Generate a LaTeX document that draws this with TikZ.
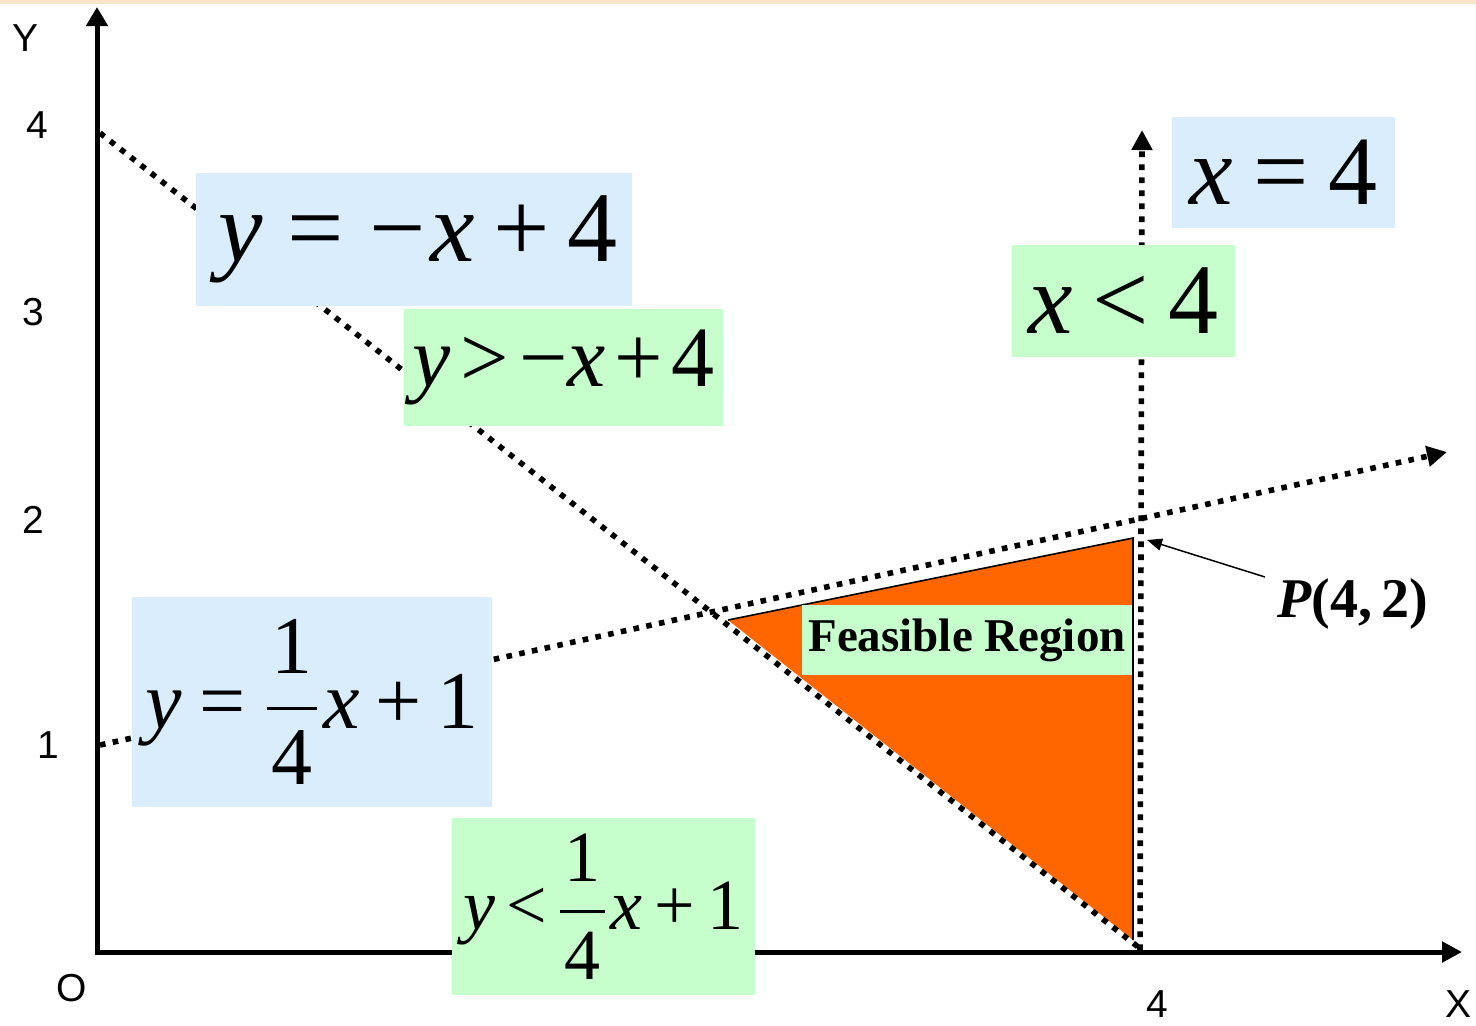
\RequirePackage{fix-cm}
\documentclass[tikz,border=0pt]{standalone}
\usepackage{amsmath}
\usepackage{fontspec}
\setmainfont{Liberation Serif}
\newfontfamily\axisfont{Liberation Sans}
\usetikzlibrary{arrows.meta,positioning}
\definecolor{eqblue}{RGB}{218,237,253}
\definecolor{eqgreen}{RGB}{198,255,204}
\definecolor{regionorange}{RGB}{255,102,0}
\definecolor{topband}{RGB}{252,228,200}
\newcommand{\vy}{\textit{y}}
\newcommand{\vx}{\textit{x}}
\newcommand{\gap}[1]{\hspace{#1em}}
\newcommand{\quarter}[1]{$\genfrac{}{}{#1}{0}{\mbox{\hspace{.06em}1\hspace{.06em}}}{\mbox{\hspace{.06em}4\hspace{.06em}}}$}

\begin{document}
\begin{tikzpicture}[x=0.5pt,y=-0.5pt,
  eqbox/.style={inner sep=0pt,outer sep=0pt},
  ticklabel/.style={font=\axisfont\fontsize{19.5}{23}\selectfont,inner sep=0pt},
  axis/.style={line width=2.5pt},
  dotline/.style={line width=2.8pt,dash pattern=on 2.8pt off 3.7pt},
  dottip/.style={-{Triangle[length=10pt,width=10pt]}}]
\useasboundingbox (0,0) rectangle (1476,1025);
\fill[topband] (0,0) rectangle (1476,4);

\coordinate (ytip) at (97,7);
\coordinate (origin) at (97,952);
\coordinate (xtip) at (1462,952);
\draw[axis,{Triangle[length=9.5pt,width=10.5pt]}-{Triangle[length=10pt,width=10pt]}] (ytip) -- (origin) -- (xtip);

\node[ticklabel] (ylab) at (26,38) {Y};
\node[ticklabel] (yfour) at (37,125) {4};
\node[ticklabel] (ythree) at (33,312) {3};
\node[ticklabel] (ytwo) at (33,520) {2};
\node[ticklabel] (yone) at (48,745) {1};
\node[ticklabel] (olab) at (72,988) {O};
\node[ticklabel] (xfour) at (1157,1004) {4};
\node[ticklabel] (xlab) at (1458,1004) {X};

\coordinate (fleft) at (728,620);
\coordinate (ftop) at (1133,538);
\coordinate (fbottom) at (1133,940);
\fill[regionorange] (fleft) -- (ftop) -- (fbottom) -- cycle;
\draw[line width=0.8pt] (fleft) -- (ftop) -- (fbottom);

\coordinate (linea) at (100,133);
\coordinate (lineb) at (1142,950);
\coordinate (quarta) at (100,745);
\coordinate (quartb) at (1447,452);
\coordinate (verta) at (1140,950);
\coordinate (vertb) at (1142,130);
\draw[dotline] (linea) -- (lineb);
\draw[dotline,dottip] (quarta) -- (quartb);
\draw[dotline,dottip] (verta) -- (vertb);

\node[eqbox,fill=eqblue,minimum width=218pt,minimum height=66.5pt,font=\fontsize{50}{60}\selectfont] (eqline) at (414,239.5)
  {\gap{.08}\vy\gap{.25}=\gap{.25}−\gap{.05}\vx\gap{.18}+\gap{.18}4};
\node[eqbox,fill=eqgreen,minimum width=159.5pt,minimum height=58.5pt,font=\fontsize{43}{52}\selectfont] (ineqline) at (563.5,367.5)
  {\vy\gap{.12}>\gap{.12}−\vx\gap{.1}+\gap{.1}4};
\node[eqbox,fill=eqblue,minimum width=180pt,minimum height=105pt,font=\fontsize{41}{49}\selectfont] (eqquart) at (312,702)
  {\vy\gap{.22}=\gap{.22}\quarter{1.7pt}\gap{.05}\vx\gap{.19}+\gap{.19}1};
\node[eqbox,fill=eqgreen,minimum width=151.5pt,minimum height=88.5pt,font=\fontsize{36}{43}\selectfont] (ineqquart) at (603.5,906.5)
  {\vy\gap{.15}<\gap{.15}\quarter{1.5pt}\gap{.05}\vx\gap{.17}+\gap{.17}1};
\node[eqbox,fill=eqblue,minimum width=111.5pt,minimum height=55.5pt,font=\fontsize{49}{59}\selectfont] (eqvert) at (1283.5,172.5)
  {\vx\gap{.21}=\gap{.21}4};
\node[eqbox,fill=eqgreen,minimum width=111.5pt,minimum height=56pt,font=\fontsize{50}{60}\selectfont] (ineqvert) at (1123.5,301)
  {\vx\gap{.2}<\gap{.2}4};

\node[eqbox,fill=eqgreen,minimum width=165pt,minimum height=35pt,font=\bfseries\fontsize{23.5}{28}\selectfont] (feasible) at (967,640) {Feasible Region};
\node[inner sep=0pt,font=\bfseries\fontsize{28}{34}\selectfont] (plabel) at (1353,604) {\textit{P}(4,\,2)};
\coordinate (ptail) at (1265,577);
\coordinate (ppoint) at (1147,540);
\draw[line width=0.75pt,-{Triangle[length=7.5pt,width=6pt]}] (ptail) -- (ppoint);
\end{tikzpicture}
\end{document}
